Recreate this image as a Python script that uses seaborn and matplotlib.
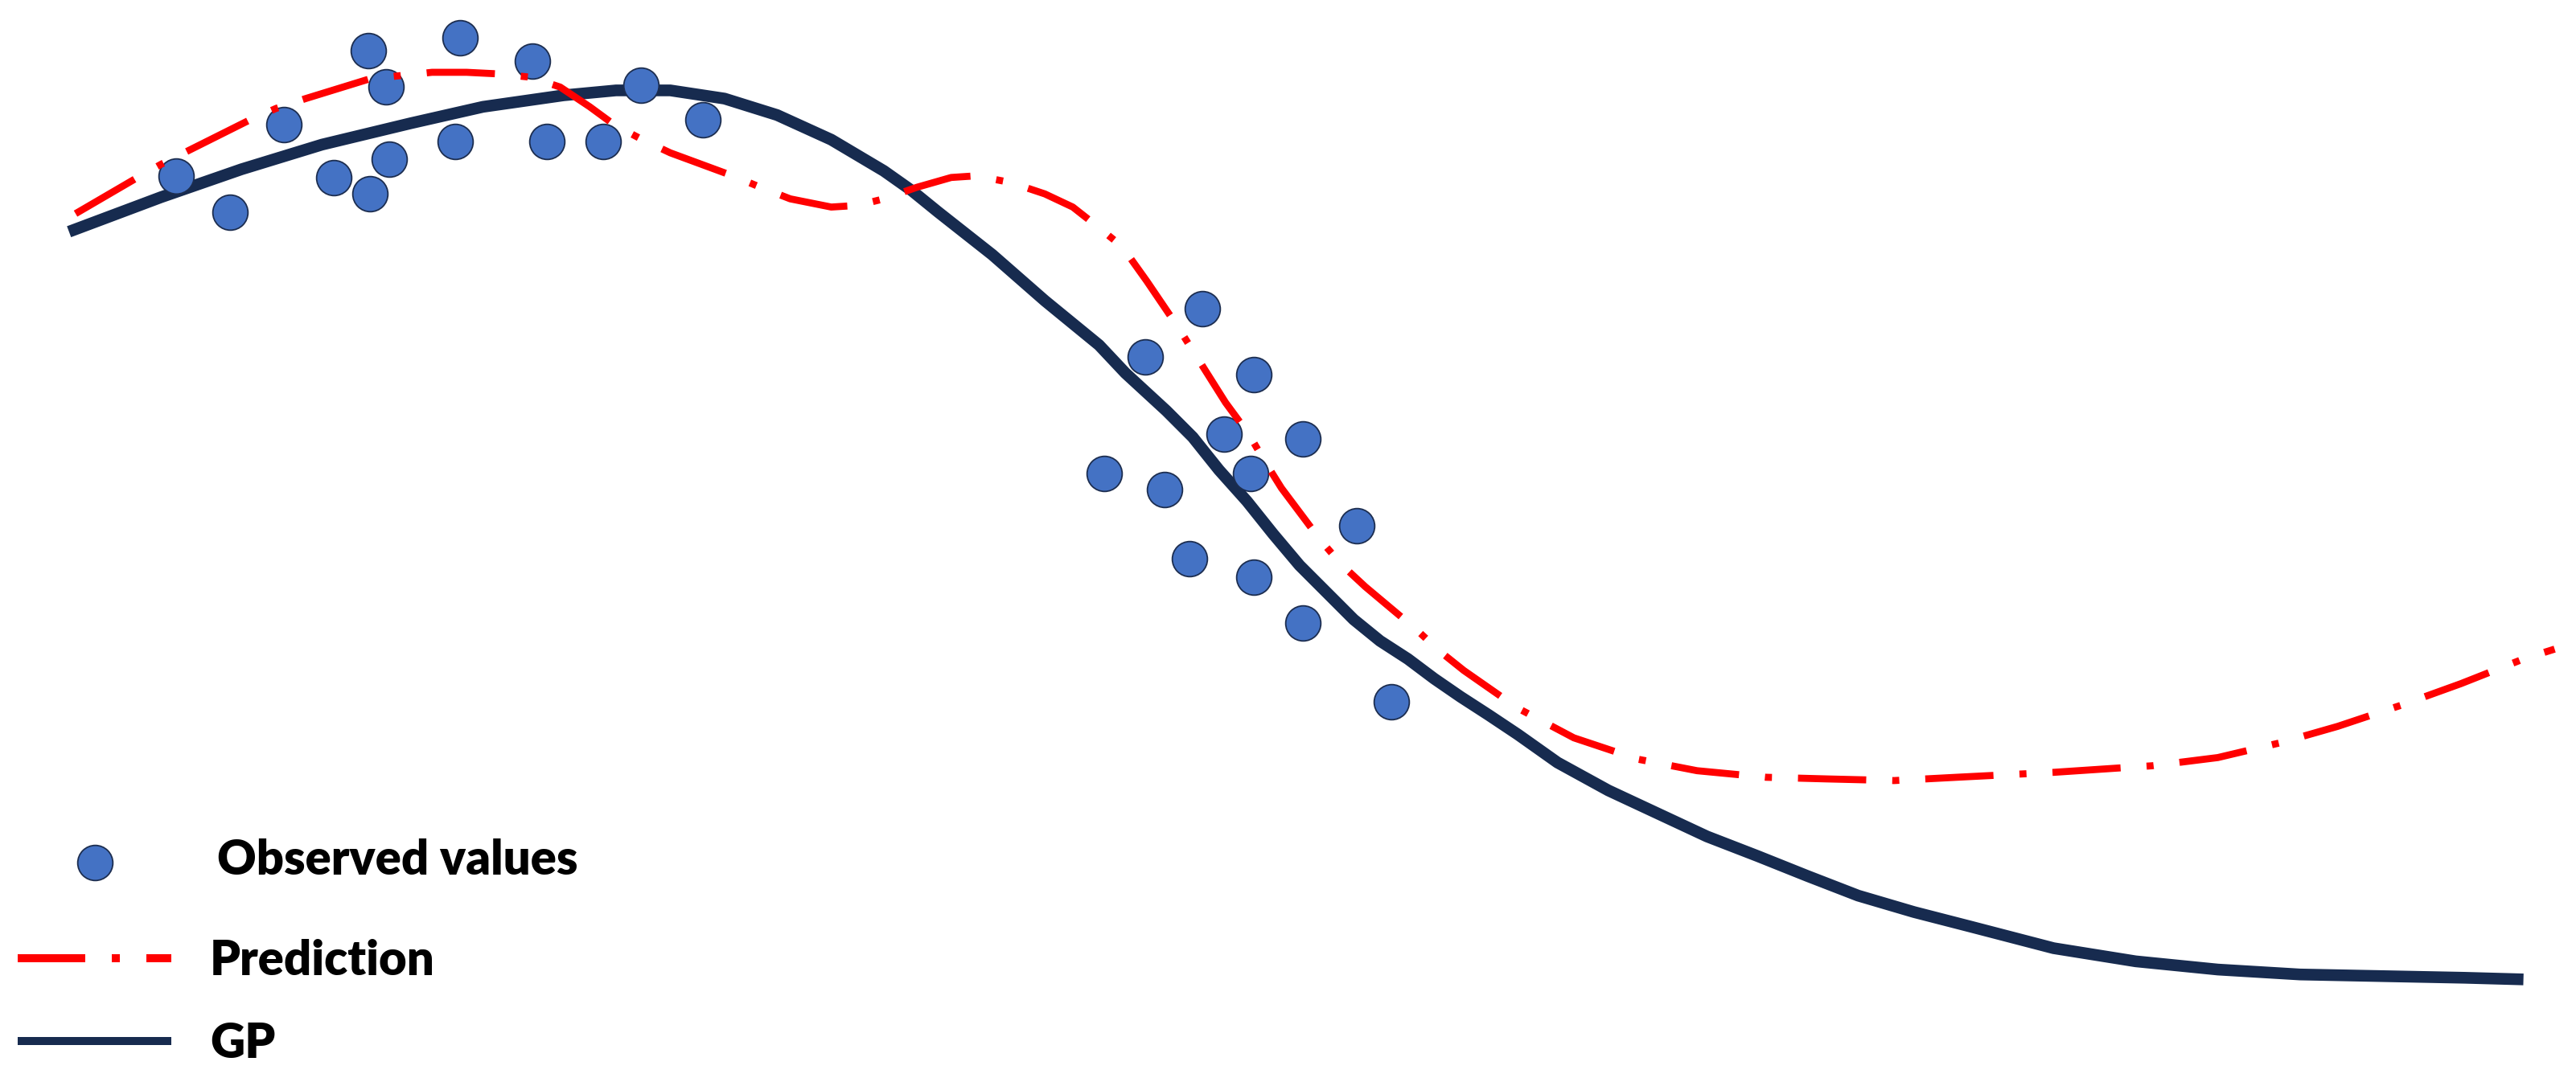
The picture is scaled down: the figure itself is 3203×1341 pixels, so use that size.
import matplotlib.pyplot as plt
import seaborn as sns

# values, in preview pixels (1568 x 656, y grows downward)
obs_x = [107, 140, 173, 203, 225, 224, 235, 237, 280, 277, 324, 333, 367, 390, 428,
         672, 697, 709, 732, 724, 763, 745, 761, 793, 763, 793, 826, 847]
obs_y = [107, 129, 76, 108, 118, 31, 53, 97, 23, 86, 37, 86, 86, 52, 73,
         288, 217, 298, 188, 340, 228, 264, 288, 267, 351, 379, 320, 427]

gp_x = [42, 98, 147, 196, 250, 294, 343, 375, 408, 441, 473, 506, 538, 555, 571,
        604, 636, 669, 685, 710, 726, 742, 759, 775, 791, 808, 824, 840, 857, 873,
        889, 906, 924, 948, 979, 1009, 1039, 1070, 1100, 1131, 1165, 1200, 1250,
        1300, 1350, 1400, 1450, 1500, 1536]
gp_y = [141, 120, 103, 88, 75, 65, 58, 55, 55, 60, 70, 85, 104, 116, 129,
        155, 183, 210, 227, 250, 266, 286, 305, 325, 344, 361, 377, 390, 401, 413,
        424, 435, 447, 464, 481, 495, 509, 521, 533, 545, 555, 564, 577,
        585, 590, 593, 594, 595, 596]

pred_x = [46, 82, 98, 116, 152, 168, 186, 225, 244, 263, 284, 304, 323, 341, 359,
          374, 391, 408, 446, 463, 481, 506, 522, 538, 558, 579, 594, 615, 636, 653,
          667, 683, 698, 717, 746, 760, 770, 780, 804, 817, 831, 862, 876, 891, 924,
          958, 997, 1033, 1075, 1112, 1153, 1191, 1250, 1310, 1350, 1388, 1423, 1462,
          1498, 1536, 1555]
pred_y = [130, 109, 100, 91, 73, 66, 60, 48, 46, 44, 44, 45, 47, 53, 65,
          76, 85, 93, 107, 114, 121, 126, 125, 121, 114, 108, 107, 111, 118, 126,
          137, 150, 171, 199, 245, 264, 281, 297, 329, 344, 357, 383, 396, 408, 431,
          449, 462, 469, 473, 474, 475, 473, 470, 466, 461, 452, 442, 429,
          416, 401, 395]

labels = ["Observed values", "Prediction", "GP"]

sns.set_style("white")
plt.rcParams["font.family"] = ["Lato", "DejaVu Sans"]

fig = plt.figure(figsize=(32.03, 13.41), dpi=100)
ax = fig.add_axes([0, 0, 1, 1])

sns.lineplot(x=gp_x, y=gp_y, color="#172B4F", lw=10.5, sort=False, legend=False,
             solid_capstyle="butt", solid_joinstyle="round",
             label=labels[2], zorder=1, ax=ax)
gp_line = ax.lines[-1]

sns.scatterplot(x=obs_x, y=obs_y, s=990, color="#4472C4", edgecolor="#1C2D4F",
                linewidth=1.3, legend=False, label=labels[0], zorder=2, ax=ax)
pts = ax.collections[-1]

sns.lineplot(x=pred_x, y=pred_y, color="#FF0000", lw=6.3, sort=False, legend=False,
             linestyle=(0, (9.7, 3.7, 1.0, 3.7)), dash_capstyle="butt",
             label=labels[1], zorder=3, ax=ax)
pred_line = ax.lines[-1]

ax.set_xlim(0, 1568)
ax.set_ylim(656, 0)
ax.axis("off")

prop = {"weight": "heavy", "size": 43}
leg1 = fig.legend(handles=[pts], labels=[labels[0]], loc="center left",
                  bbox_to_anchor=(25 / 3203, 1 - 1071 / 1341), frameon=False,
                  prop=prop, handlelength=3.1, handletextpad=1.0,
                  borderpad=0, borderaxespad=0, scatterpoints=1, labelcolor="black")
leg2 = fig.legend(handles=[pred_line, gp_line], labels=[labels[1], labels[2]],
                  loc="center left", bbox_to_anchor=(22 / 3203, 1 - 1247 / 1341),
                  frameon=False, prop=prop, handlelength=3.2, handletextpad=0.8,
                  labelspacing=0.8, borderpad=0, borderaxespad=0, labelcolor="black")
for ln in leg2.get_lines():
    ln.set_linewidth(7.2)
leg2.get_lines()[0].set_linestyle((0, (8.4, 3.3, 1.0, 3.3)))

fig.savefig("out.png", dpi=100)
